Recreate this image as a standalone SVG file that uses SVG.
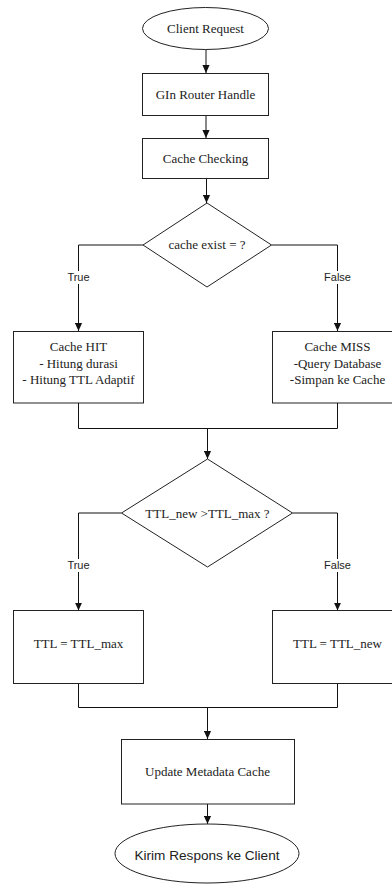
<svg xmlns="http://www.w3.org/2000/svg" width="392" height="884" viewBox="0 0 392 884">
<style>
.n{fill:#fff;stroke:#222;stroke-width:1}
.t{font-family:"Liberation Serif","Times New Roman",serif;font-size:13px;fill:#222;text-anchor:middle}
.s{font-family:"Liberation Sans",Arial,sans-serif;fill:#222;text-anchor:middle}
.c{fill:none;stroke:#111;stroke-width:1}
.lbl{font-family:"Liberation Sans",Arial,sans-serif;font-size:11px;fill:#222;text-anchor:middle}
</style>
<defs>
<marker id="arr" viewBox="0 0 10 10" refX="10" refY="5" markerWidth="8" markerHeight="8" markerUnits="userSpaceOnUse" orient="auto">
<path d="M0,0.5 L10,5 L0,9.5 z" fill="#111"/>
</marker>
</defs>
<rect width="392" height="884" fill="#fff"/>
<g id="connectors">
<line class="c" x1="206" y1="49" x2="206" y2="73" marker-end="url(#arr)"/>
<line class="c" x1="206" y1="115" x2="206" y2="138" marker-end="url(#arr)"/>
<line class="c" x1="206.5" y1="178" x2="206.5" y2="203" marker-end="url(#arr)"/>
<polyline class="c" points="143,245 78.5,245 78.5,331" marker-end="url(#arr)"/>
<polyline class="c" points="271.5,245 337.5,245 337.5,331" marker-end="url(#arr)"/>
<rect x="66" y="271" width="25" height="13" fill="#fff"/>
<text class="lbl" x="78.5" y="281">True</text>
<rect x="323" y="271" width="29" height="13" fill="#fff"/>
<text class="lbl" x="337.5" y="281">False</text>
<polyline class="c" points="78.5,403 78.5,428.5 337.5,428.5 337.5,403"/>
<line class="c" x1="207.5" y1="428.5" x2="207.5" y2="459" marker-end="url(#arr)"/>
<polyline class="c" points="121.5,513 78.5,513 78.5,610.5" marker-end="url(#arr)"/>
<polyline class="c" points="292.5,513 337.5,513 337.5,610.5" marker-end="url(#arr)"/>
<rect x="66" y="559" width="25" height="13" fill="#fff"/>
<text class="lbl" x="78.5" y="569">True</text>
<rect x="323" y="559" width="29" height="13" fill="#fff"/>
<text class="lbl" x="337.5" y="569">False</text>
<polyline class="c" points="78.5,683.5 78.5,707.5 337.5,707.5 337.5,683.5"/>
<line class="c" x1="207.5" y1="707.5" x2="207.5" y2="739" marker-end="url(#arr)"/>
<line class="c" x1="207.5" y1="804" x2="207.5" y2="824" marker-end="url(#arr)"/>
</g>
<g id="client-request">
<ellipse class="n" cx="205.5" cy="28.5" rx="63" ry="21"/>
<text class="t" x="205.5" y="33">Client Request</text>
</g>
<g id="gin-router">
<rect class="n" x="142.5" y="73.5" width="126" height="42"/>
<text class="t" x="205.5" y="99">GIn Router Handle</text>
</g>
<g id="cache-checking">
<rect class="n" x="142.5" y="138.5" width="126" height="40"/>
<text class="t" x="205.5" y="162.5">Cache Checking</text>
</g>
<g id="cache-exist">
<polygon class="n" points="207,203 271.5,245 207,287 143,245"/>
<text class="t" x="207" y="249">cache exist = ?</text>
</g>
<g id="cache-hit">
<rect class="n" x="13.5" y="331.5" width="130" height="71.5"/>
<text class="t" x="78.5" y="351">Cache HIT</text>
<text class="t" x="78.5" y="367.5">- Hitung durasi</text>
<text class="t" x="78.5" y="384">- Hitung TTL Adaptif</text>
</g>
<g id="cache-miss">
<rect class="n" x="272.5" y="331.5" width="130" height="71.5"/>
<text class="t" x="337.5" y="351">Cache MISS</text>
<text class="t" x="337.5" y="367.5">-Query Database</text>
<text class="t" x="337.5" y="384">-Simpan ke Cache</text>
</g>
<g id="ttl-check">
<polygon class="n" points="207.5,459 292.5,513 207.5,567 121.5,513"/>
<text class="t" x="207.5" y="517.5">TTL_new &gt;TTL_max ?</text>
</g>
<g id="ttl-max">
<rect class="n" x="13.5" y="610.5" width="130" height="73"/>
<text class="t" x="78.5" y="647.5">TTL = TTL_max</text>
</g>
<g id="ttl-new">
<rect class="n" x="272.5" y="610.5" width="130" height="73"/>
<text class="t" x="337.5" y="647.5">TTL = TTL_new</text>
</g>
<g id="update-metadata">
<rect class="n" x="121.5" y="739.5" width="173" height="64.5"/>
<text class="t" x="207.5" y="776">Update Metadata Cache</text>
</g>
<g id="kirim-respons">
<ellipse class="n" cx="207" cy="853.5" rx="92" ry="29.5"/>
<text class="s" x="207" y="860" font-size="13.6">Kirim Respons ke Client</text>
</g>
</svg>
